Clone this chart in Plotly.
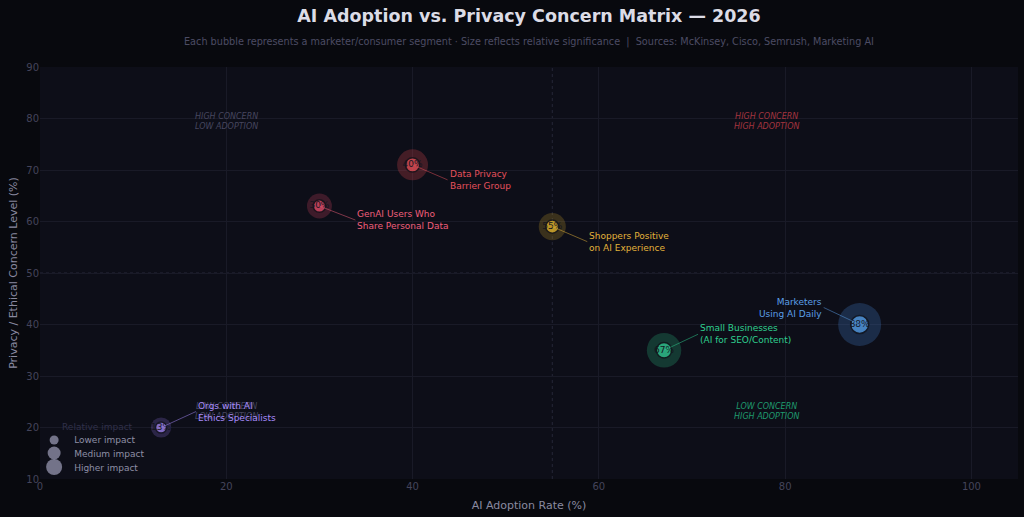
import plotly.graph_objects as go

segments = ["Marketers<br>Using AI Daily", "Small Businesses<br>(AI for SEO/Content)",
            "Shoppers Positive<br>on AI Experience", "Data Privacy<br>Barrier Group",
            "GenAI Users Who<br>Share Personal Data", "Orgs with AI<br>Ethics Specialists"]
adoption = [88, 67, 55, 40, 30, 13]
concern = [40, 35, 59, 71, 63, 20]
value_labels = ["88%", "67%", "55%", "40%", "30%", "13%"]
significance = [10, 8, 6.3, 7.2, 5.8, 4.7]
colors = ["#5aa9f5", "#34d399", "#f0bf2e", "#f2545b", "#f0506e", "#a78bfa"]
label_colors = ["#5b9fe6", "#2fcf8f", "#e2b23a", "#e5515c", "#ef5f7a", "#a78bfa"]
arrow_colors = ["rgba(91,159,230,0.5)", "rgba(47,207,143,0.5)", "rgba(226,178,58,0.5)",
                "rgba(229,81,92,0.5)", "rgba(239,95,122,0.5)", "rgba(167,139,250,0.5)"]
glow_colors = ["rgba(59,110,180,0.45)", "rgba(40,170,120,0.40)", "rgba(200,160,40,0.35)",
               "rgba(220,70,80,0.38)", "rgba(220,70,100,0.35)", "rgba(140,110,220,0.35)"]
label_offsets = [(-36, -17, "right"), (34, -16, "left"), (35, 15, "left"),
                 (35, 15, "left"), (36, 14, "left"), (35, -16, "left")]

quad_text = ["HIGH CONCERN<br>LOW ADOPTION", "HIGH CONCERN<br>HIGH ADOPTION",
             "LOW CONCERN<br>HIGH ADOPTION", "LOW CONCERN<br>LOW ADOPTION"]
quad_x = [20, 78, 78, 20]
quad_y = [79.5, 79.5, 23.2, 23.2]
quad_colors = ["#46465f", "#a3343f", "#1f9a6e", "#46465f"]

legend_names = ["Lower impact", "Medium impact", "Higher impact"]
legend_sizes = [9, 13, 18]
legend_keys = ["legend", "legend2", "legend3"]
legend_ypos = [0.0947, 0.0631, 0.0291]

FONT = "DejaVu Sans"
fig = go.Figure()

# glow
fig.add_trace(go.Scatter(
    x=adoption, y=concern, mode="markers", hoverinfo="skip", showlegend=False,
    marker=dict(size=[s * 4.3 for s in significance], color=glow_colors, line=dict(width=0))))
# core
fig.add_trace(go.Scatter(
    x=adoption, y=concern, mode="markers+text", text=value_labels, textposition="middle center",
    textfont=dict(size=9, color="#14151f", family=FONT), showlegend=False,
    marker=dict(size=[s * 1.3 + 5 for s in significance], color=colors,
                line=dict(width=1.5, color="#101118"))))

for name, s, lk in zip(legend_names, legend_sizes, legend_keys):
    fig.add_trace(go.Scatter(x=[None], y=[None], mode="markers", name=name, legend=lk,
                             marker=dict(size=s, color="rgba(150,150,175,0.75)")))

annotations = []
for qt, qx, qy, qc in zip(quad_text, quad_x, quad_y, quad_colors):
    annotations.append(dict(x=qx, y=qy, text="<i>" + qt + "</i>", showarrow=False,
                            font=dict(size=8, color=qc, family=FONT), align="center"))

for seg, x, y, lc, ac, (ax, ay, anc) in zip(segments, adoption, concern, label_colors,
                                            arrow_colors, label_offsets):
    annotations.append(dict(x=x, y=y, text=seg, showarrow=True, arrowhead=0, arrowwidth=1,
                            arrowcolor=ac, ax=ax, ay=ay, xanchor=anc, yanchor="middle",
                            align=anc, standoff=0,
                            font=dict(size=9, color=lc, family=FONT)))

annotations.append(dict(xref="paper", yref="paper", x=0.5, y=1.0, yanchor="bottom", yshift=17,
                        text="Each bubble represents a marketer/consumer segment · Size reflects relative significance  |  Sources: McKinsey, Cisco, Semrush, Marketing AI",
                        showarrow=False, font=dict(size=9.7, color="#4c4c64", family=FONT)))
annotations.append(dict(xref="paper", yref="paper", x=0.0204, y=0.126, xanchor="left",
                        yanchor="middle", text="Relative impact", showarrow=False,
                        font=dict(size=9, color="#30304a", family=FONT)))

legend_common = dict(xanchor="left", yanchor="middle", bgcolor="rgba(0,0,0,0)",
                     font=dict(size=9, color="#8e8ea6", family=FONT), itemsizing="trace")

fig.update_layout(
    width=1024, height=517,
    paper_bgcolor="#08090e", plot_bgcolor="#0d0e18",
    margin=dict(l=40, r=6, t=67, b=38),
    font=dict(family=FONT, color="#8a8aa0"),
    title=dict(text="<b>AI Adoption vs. Privacy Concern Matrix — 2026</b>",
               x=0.5, xref="paper", y=0.97, yanchor="middle",
               font=dict(size=17.5, color="#dcdce6", family=FONT)),
    annotations=annotations,
    xaxis=dict(range=[0, 105], tickvals=[0, 20, 40, 60, 80, 100], showgrid=True,
               gridcolor="#191a27", zeroline=False, showline=False,
               tickfont=dict(size=10, color="#44445a"),
               title=dict(text="AI Adoption Rate (%)", font=dict(size=11, color="#8a8aa0"), standoff=10)),
    yaxis=dict(range=[10, 90], tickvals=[10, 20, 30, 40, 50, 60, 70, 80, 90], showgrid=True,
               gridcolor="#191a27", zeroline=False, showline=False,
               tickfont=dict(size=10, color="#44445a"),
               title=dict(text="Privacy / Ethical Concern Level (%)", font=dict(size=11, color="#8a8aa0"), standoff=6)),
    legend=dict(x=-0.006, y=legend_ypos[0], **legend_common),
    legend2=dict(x=-0.006, y=legend_ypos[1], **legend_common),
    legend3=dict(x=-0.006, y=legend_ypos[2], **legend_common),
    shapes=[
        dict(type="line", x0=55, x1=55, y0=0, y1=1, xref="x", yref="paper",
             line=dict(color="#262738", width=1, dash="dot"), layer="below"),
        dict(type="line", x0=0, x1=1, y0=50, y1=50, xref="paper", yref="y",
             line=dict(color="#262738", width=1, dash="dot"), layer="below"),
    ],
)

fig.write_html("out.html")
